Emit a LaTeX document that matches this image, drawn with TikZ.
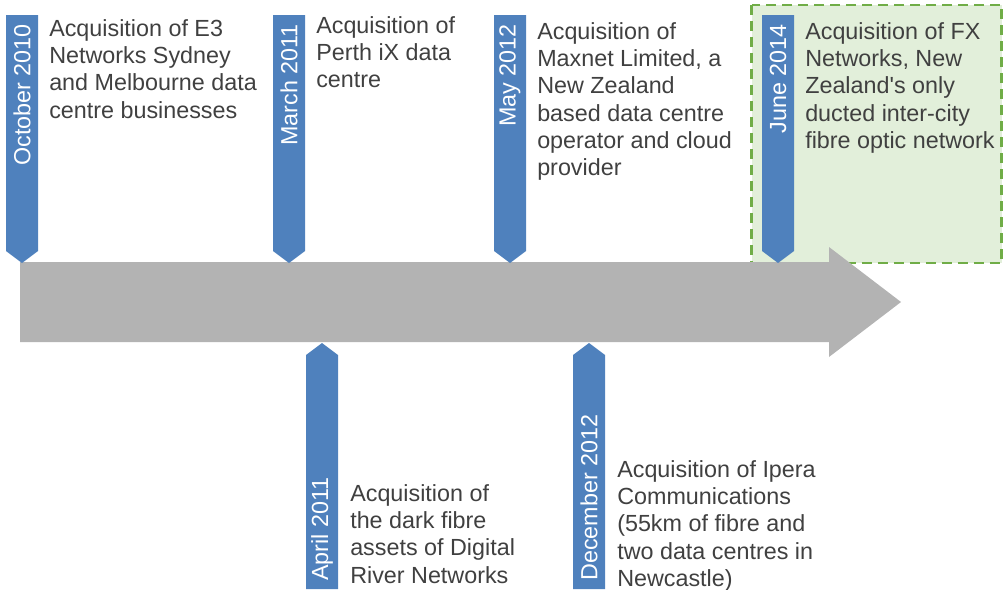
\documentclass[tikz,border=0pt]{standalone}
\usepackage{fontspec}
\setmainfont{Liberation Sans}
\usepackage{xcolor}
\usetikzlibrary{calc}
\definecolor{tagblue}{HTML}{4F81BD}
\definecolor{axisgray}{HTML}{B3B3B3}
\definecolor{textgray}{HTML}{404040}
\definecolor{boxgreen}{HTML}{70AD47}
\definecolor{boxfill}{HTML}{E2EFDA}
\tikzset{
	datetext/.style={
			rotate=90, text=white, inner sep=0pt,
			font=\fontsize{17.5pt}{20pt}\selectfont
		},
	eventtext/.style={
			text=textgray, align=left, inner sep=0pt, anchor=north west,
			font=\fontsize{17.5pt}{20.5pt}\selectfont
		}
}

\begin{document}
\begin{tikzpicture}[x=0.75pt, y=-0.75pt]
		\useasboundingbox (0, 0) rectangle (1003, 589);

		\draw[boxgreen, fill=boxfill, line width=2pt, dash pattern=on 7.5pt off 4.5pt]	(751.5, 5) rectangle (1001.5, 263);
		\fill[axisgray]	(20, 262) -- (829, 262) -- (829, 247) -- (901, 302) -- (829, 357) -- (829, 342) -- (20, 342) -- cycle;

		\foreach \x/\date/\name in {6/October 2010/oct, 273/March 2011/mar, 494/May 2012/may, 762/June 2014/jun} {
			\fill[tagblue]	(\x, 15) -- (\x + 32, 15) -- (\x + 32, 251) -- (\x + 16, 263) -- (\x, 251) -- cycle;
			\node[datetext, anchor=east] (\name) at (\x + 16, 24) {\date};
		}
		\foreach \x/\date/\name in {306/April 2011/apr, 573/December 2012/dec} {
			\fill[tagblue]	(\x, 589) -- (\x, 355) -- (\x + 16, 343) -- (\x + 32, 355) -- (\x + 32, 589) -- cycle;
			\node[datetext, anchor=west] (\name) at (\x + 16, 581) {\date};
		}

		\node[eventtext] (octtext) at (49, 19)	{Acquisition of E3\\Networks Sydney\\and Melbourne data\\centre businesses};
		\node[eventtext] (martext) at (316, 16)	{Acquisition of\\Perth iX data\\centre};
		\node[eventtext] (maytext) at (537, 22)	{Acquisition of\\Maxnet Limited, a\\New Zealand\\based data centre\\operator and cloud\\provider};
		\node[eventtext] (juntext) at (805, 22)	{Acquisition of FX\\Networks, New\\Zealand\textquotesingle s only\\ducted inter-city\\fibre optic network};
		\node[eventtext] (aprtext) at (350, 484)	{Acquisition of\\the dark fibre\\assets of Digital\\River Networks};
		\node[eventtext] (dectext) at (617, 460)	{Acquisition of Ipera\\Communications\\(55km of fibre and\\two data centres in\\Newcastle)};
	\end{tikzpicture}
\end{document}
